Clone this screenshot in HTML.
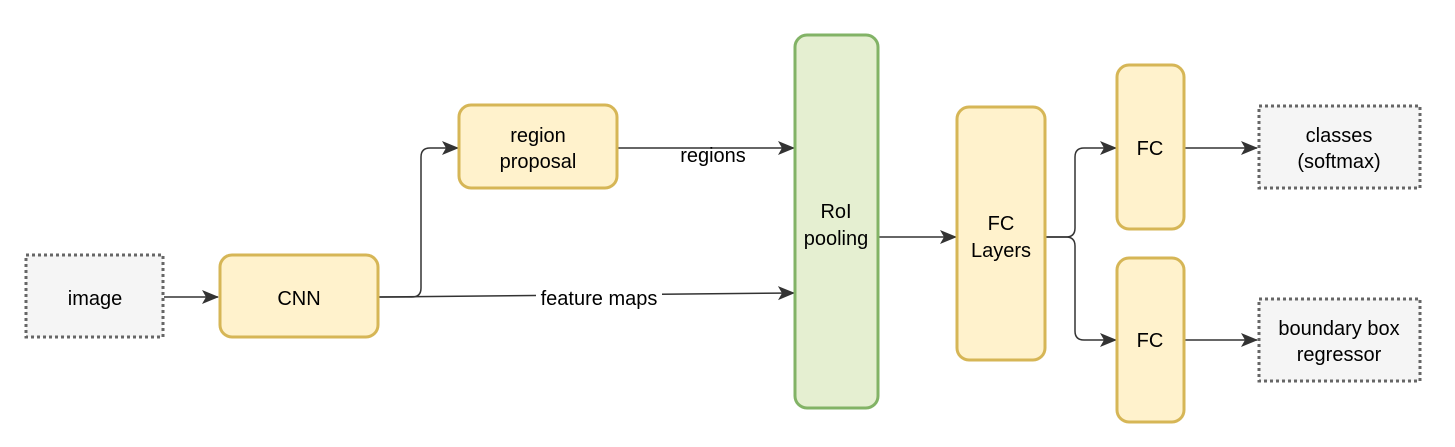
<!DOCTYPE html>
<html><head><meta charset="utf-8"><style>
html,body{margin:0;padding:0;background:#fff;}
svg{display:block;}
text{font-family:"Liberation Sans",Arial,sans-serif;font-size:20px;fill:#000;text-anchor:middle;}
</style></head><body>
<svg width="1455" height="447" viewBox="0 0 1455 447" xmlns="http://www.w3.org/2000/svg">
<defs>
<marker id="a" markerWidth="18" markerHeight="16" refX="16" refY="8" orient="auto" markerUnits="userSpaceOnUse">
<path d="M0,1 L17,8 L0,15 L4,8 Z" fill="#333"/>
</marker>
</defs>
<g fill="none" stroke="#333" stroke-width="1.5">
<path d="M164,297 H218" marker-end="url(#a)"/>
<path d="M378,297 H412 Q421,297 421,288 V157 Q421,148 430,148 H458" marker-end="url(#a)"/>
<path d="M378,297 L794,293" marker-end="url(#a)"/>
<path d="M617,148 H794" marker-end="url(#a)"/>
<path d="M878,237 H956" marker-end="url(#a)"/>
<path d="M1045,237 H1066 Q1075,237 1075,228 V157 Q1075,148 1084,148 H1116" marker-end="url(#a)"/>
<path d="M1045,237 H1066 Q1075,237 1075,246 V331 Q1075,340 1084,340 H1116" marker-end="url(#a)"/>
<path d="M1184,148 H1257" marker-end="url(#a)"/>
<path d="M1184,340 H1257" marker-end="url(#a)"/>
</g>
<g stroke-width="3">
<rect x="26" y="255" width="137" height="82" fill="#f5f5f5" stroke="#666" stroke-dasharray="3,3"/>
<rect x="220" y="255" width="158" height="82" rx="12" fill="#fff2cc" stroke="#d6b656"/>
<rect x="459" y="105" width="158" height="83" rx="12" fill="#fff2cc" stroke="#d6b656"/>
<rect x="795" y="35" width="83" height="373" rx="12" fill="#e5efd1" stroke="#82b366"/>
<rect x="957" y="107" width="88" height="253" rx="12" fill="#fff2cc" stroke="#d6b656"/>
<rect x="1117" y="65" width="67" height="164" rx="12" fill="#fff2cc" stroke="#d6b656"/>
<rect x="1117" y="258" width="67" height="164" rx="12" fill="#fff2cc" stroke="#d6b656"/>
<rect x="1259" y="106" width="161" height="82" fill="#f5f5f5" stroke="#666" stroke-dasharray="3,3"/>
<rect x="1259" y="299" width="161" height="82" fill="#f5f5f5" stroke="#666" stroke-dasharray="3,3"/>
</g>
<rect x="536" y="286" width="126" height="20" fill="#fff"/>
<rect x="677" y="149" width="72" height="18" fill="#fff"/>
<text x="95" y="305">image</text>
<text x="299" y="305">CNN</text>
<text x="538" y="142">region</text>
<text x="538" y="168">proposal</text>
<text x="713" y="162">regions</text>
<text x="599" y="305">feature maps</text>
<text x="836" y="218">RoI</text>
<text x="836" y="245">pooling</text>
<text x="1001" y="230">FC</text>
<text x="1001" y="257">Layers</text>
<text x="1150" y="155">FC</text>
<text x="1150" y="347">FC</text>
<text x="1339" y="142">classes</text>
<text x="1339" y="168">(softmax)</text>
<text x="1339" y="335">boundary box</text>
<text x="1339" y="361">regressor</text>
</svg>
</body></html>
